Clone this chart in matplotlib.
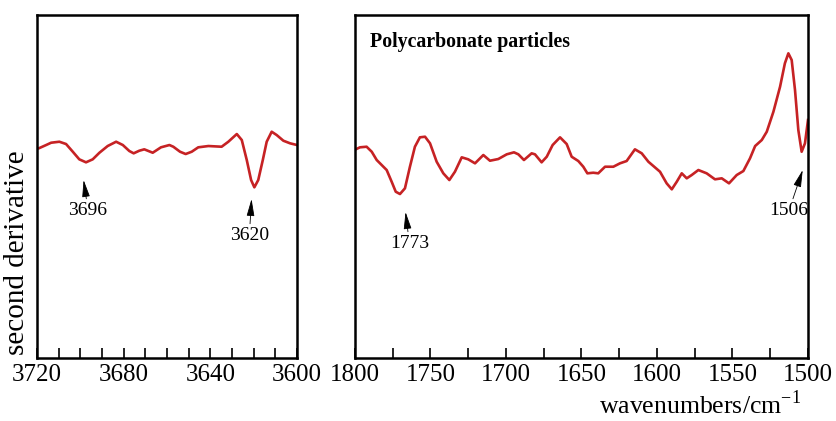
import matplotlib
matplotlib.use('Agg')
import matplotlib.pyplot as plt
from matplotlib.ticker import MultipleLocator

plt.rcParams['font.family'] = ['Liberation Serif', 'DejaVu Serif']

# OH stretching region (left panel), second derivative in arbitrary units
wn_oh = [3720, 3719.2, 3715.8, 3713.5, 3709.7, 3706.6, 3703.5, 3700.5, 3697.4, 3694.3,
         3691.2, 3687.4, 3683.5, 3680.4, 3677.4, 3675.4, 3672.8, 3670.5, 3666.6, 3662.8,
         3658.9, 3657.1, 3654.0, 3651.4, 3648.6, 3645.6, 3640.9, 3634.8, 3631.7, 3627.8,
         3625.5, 3623.2, 3621.2, 3619.7, 3617.9, 3615.8, 3614.0, 3611.7, 3609.4, 3606.3,
         3603.2, 3600]
d2_oh = [209.5, 209.7, 213, 215.3, 216.3, 214, 206.3, 198.7, 195.7, 198.7,
         205.3, 212, 216.3, 213, 207, 204.7, 207.3, 208.7, 205.3, 210.7,
         213, 211.3, 206.3, 204, 206.3, 210.7, 212, 211.3, 216.3, 224,
         218, 198, 178, 170.7, 178, 198, 216.3, 226.3, 223, 217.3,
         214.7, 213]

# fingerprint region (right panel)
wn_fp = [1800, 1799.5, 1796.7, 1792.3, 1788.9, 1785.6, 1782.3, 1779.0, 1775.7, 1773.0,
         1770.2, 1766.9, 1763.6, 1760.3, 1757.0, 1753.6, 1750.3, 1745.9, 1741.5, 1737.5,
         1733.8, 1729.3, 1725.0, 1720.5, 1715.0, 1710.6, 1705.1, 1699.5, 1694.7, 1691.8,
         1688.1, 1683.0, 1680.8, 1676.4, 1673.0, 1669.1, 1664.2, 1659.8, 1656.5, 1652.1,
         1648.8, 1646.1, 1642.2, 1638.9, 1634.4, 1628.9, 1624.5, 1620.1, 1614.6, 1610.1,
         1605.7, 1598.0, 1593.6, 1590.2, 1586.9, 1583.6, 1580.3, 1577.0, 1572.6, 1567.1,
         1561.6, 1557.1, 1552.3, 1547.2, 1542.8, 1538.4, 1535.0, 1530.6, 1527.3, 1522.9,
         1518.5, 1515.3, 1513.0, 1510.8, 1508.6, 1506.4, 1504.2, 1502.0, 1500]
d2_fp = [208.5, 208.7, 210.7, 211.3, 206.3, 198, 193, 188, 176.3, 166.3,
         164, 169.7, 191.3, 211.3, 220.7, 221.3, 214.7, 196.3, 184.7, 178,
         186.3, 200.7, 198.7, 194.7, 203, 197.3, 199, 203.7, 205.7, 203.7,
         198, 204.7, 203.7, 195.7, 201.3, 213, 220.7, 214, 201.3, 197,
         191.3, 184.7, 185.3, 184.7, 191.3, 191.3, 194.7, 197, 208.7, 204.7,
         196.3, 186.3, 174.7, 168.7, 176.3, 184.7, 179.7, 183, 188, 184.7,
         178.7, 179.7, 174.7, 183, 187, 199.7, 212, 218, 226.3, 246.3,
         271.3, 294.7, 304.7, 298, 268, 228, 206.3, 214.7, 238]

fig = plt.figure(figsize=(8.36, 4.21), dpi=100)
ax1 = fig.add_axes([0.0443, 0.1496, 0.311, 0.8147])
ax2 = fig.add_axes([0.4246, 0.1496, 0.5419, 0.8147])

red = '#c62224'
ax1.plot(wn_oh, d2_oh, color=red, lw=1.9, solid_joinstyle='round')
ax2.plot(wn_fp, d2_fp, color=red, lw=1.9, solid_joinstyle='round')

ax1.set_xlim(3720, 3600)
ax2.set_xlim(1800, 1500)
for ax in (ax1, ax2):
    ax.set_ylim(0, 343)
    ax.set_yticks([])
    for s in ax.spines.values():
        s.set_linewidth(1.8)
    ax.tick_params(axis='x', which='both', direction='in', length=7, width=1.2,
                   labelsize=18, pad=4)
ax1.xaxis.set_major_locator(MultipleLocator(40))
ax1.xaxis.set_minor_locator(MultipleLocator(10))
ax2.xaxis.set_major_locator(MultipleLocator(50))
ax2.xaxis.set_minor_locator(MultipleLocator(25))

# peak markers
arrow = dict(arrowstyle='-|>,head_length=0.75,head_width=0.17', color='black', lw=0.6,
             shrinkA=0, shrinkB=0)
ax1.annotate('3696', xy=(3698.5, 178), xytext=(3696.5, 148), fontsize=14,
             ha='center', va='center', arrowprops=arrow)
ax1.annotate('3620', xy=(3621, 159), xytext=(3622, 123), fontsize=14,
             ha='center', va='center', arrowprops=arrow)
ax2.annotate('1773', xy=(1766.5, 146), xytext=(1764, 115), fontsize=14,
             ha='center', va='center', arrowprops=arrow)
ax2.annotate('1506', xy=(1503.5, 188), xytext=(1512.5, 148), fontsize=14,
             ha='center', va='center', arrowprops=arrow)

ax2.text(0.033, 0.92, 'Polycarbonate particles', transform=ax2.transAxes,
         fontsize=14.3, fontweight='bold', ha='left', va='center')

fig.text(0.02, 0.399, 'second derivative', rotation=90, fontsize=21,
         ha='center', va='center')
fig.text(0.958, 0.004, 'wavenumbers/cm$^{\\mathregular{-1}}$', fontsize=18.5,
         ha='right', va='bottom')

fig.savefig('out.png', dpi=100)
